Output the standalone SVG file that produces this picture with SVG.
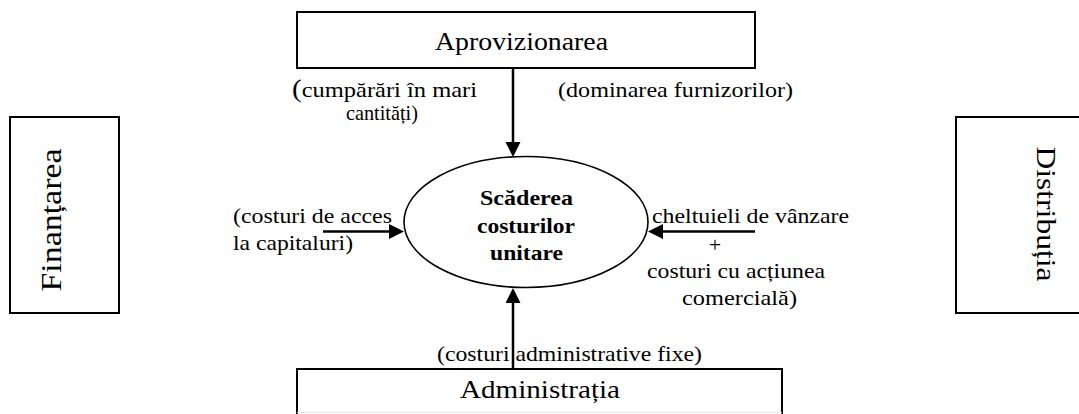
<svg xmlns="http://www.w3.org/2000/svg" width="1079" height="414" viewBox="0 0 1079 414">
<style>
text{font-family:"Liberation Serif","Times New Roman",Times,"DejaVu Serif",serif;fill:#000}
.box{fill:none;stroke:#000;stroke-width:2}
.ell{fill:#fff;stroke:#000;stroke-width:1.6}
.lbl{font-size:22px}
.big{font-size:25px}
.ctr{font-size:21px;font-weight:bold}
.arr{stroke:#000;stroke-width:2.5;fill:none;marker-end:url(#ah)}
</style>
<defs>
<marker id="ah" markerUnits="userSpaceOnUse" markerWidth="16" markerHeight="16" refX="12" refY="7.5" orient="auto">
<path d="M0,0 L15,7.5 L0,15 Z" fill="#000"/>
</marker>
</defs>
<rect width="1079" height="414" fill="#fff"/>

<g id="aprovizionarea">
<rect class="box" x="297" y="12" width="458" height="56"/>
<text class="big" x="435" y="50" textLength="173" lengthAdjust="spacingAndGlyphs">Aprovizionarea</text>
</g>

<g id="finantarea">
<rect class="box" x="10" y="117" width="109" height="196"/>
<text font-size="29" text-anchor="middle" transform="translate(61,220) rotate(-90)" textLength="143" lengthAdjust="spacingAndGlyphs">Finanțarea</text>
</g>

<g id="distributia">
<path class="box" d="M1090,117 H956 V313 H1090"/>
<text font-size="28" text-anchor="middle" transform="translate(1037,214) rotate(90)" textLength="135" lengthAdjust="spacingAndGlyphs">Distribuția</text>
</g>

<g id="administratia">
<path class="box" d="M297,416 V369 H782 V416"/>
<line x1="297" y1="412.5" x2="782" y2="412.5" stroke="#e6e6e6" stroke-width="1"/>
<text class="big" x="460" y="398" textLength="160" lengthAdjust="spacingAndGlyphs">Administrația</text>
</g>

<g id="scaderea">
<ellipse class="ell" cx="526" cy="222" rx="122" ry="65.5"/>
<text class="ctr" x="480" y="205" textLength="93" lengthAdjust="spacingAndGlyphs">Scăderea</text>
<text class="ctr" x="477" y="233" textLength="98" lengthAdjust="spacingAndGlyphs">costurilor</text>
<text class="ctr" x="490" y="260" textLength="73" lengthAdjust="spacingAndGlyphs">unitare</text>
</g>

<g id="connectors">
<line class="arr" x1="513" y1="68" x2="513" y2="154"/>
<line class="arr" x1="513" y1="369" x2="513" y2="291"/>
<line class="arr" x1="323" y1="231.5" x2="401" y2="231.5"/>
<line class="arr" x1="755" y1="231.5" x2="651" y2="231.5"/>
</g>

<g id="labels">
<text class="lbl" x="292" y="97" textLength="185" lengthAdjust="spacingAndGlyphs"><tspan font-size="26">(</tspan>cumpărări în mari</text>
<text class="lbl" x="346" y="120" textLength="72" lengthAdjust="spacingAndGlyphs">cantități)</text>
<text class="lbl" x="558" y="97" textLength="235" lengthAdjust="spacingAndGlyphs">(dominarea furnizorilor)</text>
<text class="lbl" x="233" y="223" textLength="159" lengthAdjust="spacingAndGlyphs">(costuri de acces</text>
<text class="lbl" x="233" y="250" textLength="120" lengthAdjust="spacingAndGlyphs">la capitaluri)</text>
<text class="lbl" x="652" y="223" textLength="197" lengthAdjust="spacingAndGlyphs">cheltuieli de vânzare</text>
<text class="lbl" x="715" y="252" text-anchor="middle">+</text>
<text class="lbl" x="647" y="278" textLength="178" lengthAdjust="spacingAndGlyphs">costuri cu acțiunea</text>
<text class="lbl" x="682" y="305" textLength="115" lengthAdjust="spacingAndGlyphs">comercială)</text>
<text class="lbl" x="437" y="361" textLength="265" lengthAdjust="spacingAndGlyphs">(costuri administrative fixe)</text>
</g>
</svg>
